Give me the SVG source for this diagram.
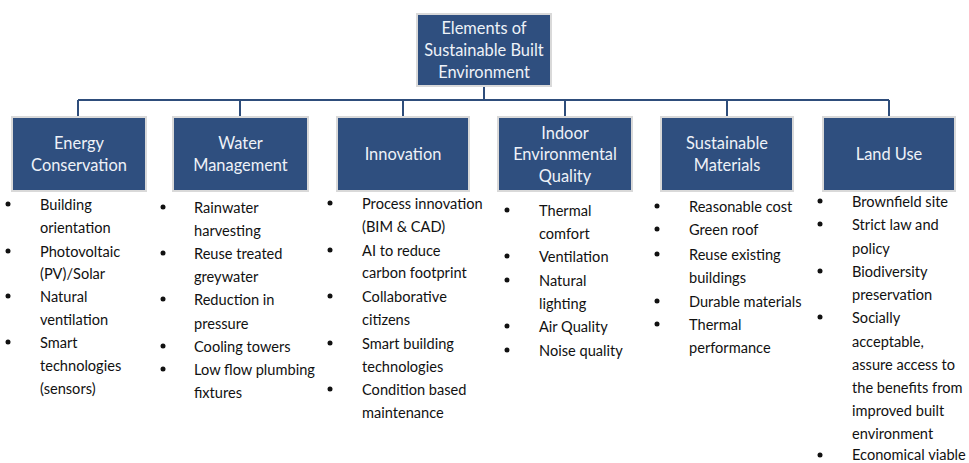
<svg xmlns="http://www.w3.org/2000/svg" width="969" height="463" viewBox="0 0 969 463">
<style>
.box{fill:#2F4F7F;stroke:#D9D9D9;stroke-width:2}
.bt{font-family:Lato,"Open Sans",sans-serif;font-size:16.4px;fill:#EEF2F8;text-anchor:middle}
.li{font-family:Lato,"Open Sans",sans-serif;font-size:14.6px;fill:#111111}
.dot{fill:#111}
.con{stroke:#2E4D7B;stroke-width:2;fill:none}
</style>
<rect width="969" height="463" fill="#FFFFFF"/>
<g id="connectors">
<path class="con" d="M484 86V100M78 100H889M78 100V117M240 100V117M403 100V117M565 100V117M727 100V117M889 100V117"/>
</g>
<g id="root">
<rect class="box" x="417" y="14" width="134" height="72"/>
<text class="bt" x="484" y="33.5">Elements of</text>
<text class="bt" x="484" y="55.5">Sustainable Built</text>
<text class="bt" x="484" y="77.5">Environment</text>
</g>
<g id="energy">
<rect class="box" x="12" y="117" width="134" height="74"/>
<text class="bt" x="79" y="148.5">Energy</text>
<text class="bt" x="79" y="170.5">Conservation</text>
<g class="li">
<circle class="dot" cx="8" cy="204" r="2.5"/>
<text x="40" y="210">Building</text>
<text x="40" y="233">orientation</text>
<circle class="dot" cx="8" cy="251" r="2.5"/>
<text x="40" y="257">Photovoltaic</text>
<text x="40" y="279">(PV)/Solar</text>
<circle class="dot" cx="8" cy="296" r="2.5"/>
<text x="40" y="302">Natural</text>
<text x="40" y="325">ventilation</text>
<circle class="dot" cx="8" cy="342" r="2.5"/>
<text x="40" y="348">Smart</text>
<text x="40" y="371">technologies</text>
<text x="40" y="394">(sensors)</text>
</g>
</g>
<g id="water">
<rect class="box" x="173" y="117" width="135" height="74"/>
<text class="bt" x="240.5" y="148.5">Water</text>
<text class="bt" x="240.5" y="170.5">Management</text>
<g class="li">
<circle class="dot" cx="163" cy="207" r="2.5"/>
<text x="194" y="213">Rainwater</text>
<text x="194" y="236">harvesting</text>
<circle class="dot" cx="163" cy="253" r="2.5"/>
<text x="194" y="259">Reuse treated</text>
<text x="194" y="282">greywater</text>
<circle class="dot" cx="163" cy="299" r="2.5"/>
<text x="194" y="305">Reduction in</text>
<text x="194" y="329">pressure</text>
<circle class="dot" cx="163" cy="346" r="2.5"/>
<text x="194" y="352">Cooling towers</text>
<circle class="dot" cx="163" cy="369" r="2.5"/>
<text x="194" y="375">Low flow plumbing</text>
<text x="194" y="398">fixtures</text>
</g>
</g>
<g id="innovation">
<rect class="box" x="337" y="117" width="132" height="74"/>
<text class="bt" x="403" y="159.5">Innovation</text>
<g class="li">
<circle class="dot" cx="330" cy="203" r="2.5"/>
<text x="362" y="209">Process innovation</text>
<text x="362" y="232">(BIM &amp; CAD)</text>
<circle class="dot" cx="330" cy="250" r="2.5"/>
<text x="362" y="256">AI to reduce</text>
<text x="362" y="278">carbon footprint</text>
<circle class="dot" cx="330" cy="296" r="2.5"/>
<text x="362" y="302">Collaborative</text>
<text x="362" y="325">citizens</text>
<circle class="dot" cx="330" cy="343" r="2.5"/>
<text x="362" y="349">Smart building</text>
<text x="362" y="372">technologies</text>
<circle class="dot" cx="330" cy="389" r="2.5"/>
<text x="362" y="395">Condition based</text>
<text x="362" y="418">maintenance</text>
</g>
</g>
<g id="indoor">
<rect class="box" x="498" y="117" width="134" height="74"/>
<text class="bt" x="565" y="138.5">Indoor</text>
<text class="bt" x="565" y="159.5">Environmental</text>
<text class="bt" x="565" y="181.5">Quality</text>
<g class="li">
<circle class="dot" cx="507" cy="210" r="2.5"/>
<text x="539" y="216">Thermal</text>
<text x="539" y="239">comfort</text>
<circle class="dot" cx="507" cy="256" r="2.5"/>
<text x="539" y="262">Ventilation</text>
<circle class="dot" cx="507" cy="280" r="2.5"/>
<text x="539" y="286">Natural</text>
<text x="539" y="309">lighting</text>
<circle class="dot" cx="507" cy="326" r="2.5"/>
<text x="539" y="332">Air Quality</text>
<circle class="dot" cx="507" cy="350" r="2.5"/>
<text x="539" y="356">Noise quality</text>
</g>
</g>
<g id="materials">
<rect class="box" x="661" y="117" width="132" height="74"/>
<text class="bt" x="727" y="148.5">Sustainable</text>
<text class="bt" x="727" y="170.5">Materials</text>
<g class="li">
<circle class="dot" cx="657" cy="206" r="2.5"/>
<text x="689" y="212">Reasonable cost</text>
<circle class="dot" cx="657" cy="229" r="2.5"/>
<text x="689" y="235">Green roof</text>
<circle class="dot" cx="657" cy="254" r="2.5"/>
<text x="689" y="260">Reuse existing</text>
<text x="689" y="283">buildings</text>
<circle class="dot" cx="657" cy="301" r="2.5"/>
<text x="689" y="307">Durable materials</text>
<circle class="dot" cx="657" cy="324" r="2.5"/>
<text x="689" y="330">Thermal</text>
<text x="689" y="353">performance</text>
</g>
</g>
<g id="landuse">
<rect class="box" x="823" y="117" width="132" height="74"/>
<text class="bt" x="889" y="159.5">Land Use</text>
<g class="li">
<circle class="dot" cx="820" cy="201" r="2.5"/>
<text x="852" y="207">Brownfield site</text>
<circle class="dot" cx="820" cy="224" r="2.5"/>
<text x="852" y="230">Strict law and</text>
<text x="852" y="254">policy</text>
<circle class="dot" cx="820" cy="271" r="2.5"/>
<text x="852" y="277">Biodiversity</text>
<text x="852" y="300">preservation</text>
<circle class="dot" cx="820" cy="317" r="2.5"/>
<text x="852" y="323">Socially</text>
<text x="852" y="347">acceptable,</text>
<text x="852" y="370">assure access to</text>
<text x="852" y="393">the benefits from</text>
<text x="852" y="416">improved built</text>
<text x="852" y="439">environment</text>
<circle class="dot" cx="820" cy="455" r="2.5"/>
<text x="852" y="459.5">Economical viable</text>
</g>
</g>
</svg>
